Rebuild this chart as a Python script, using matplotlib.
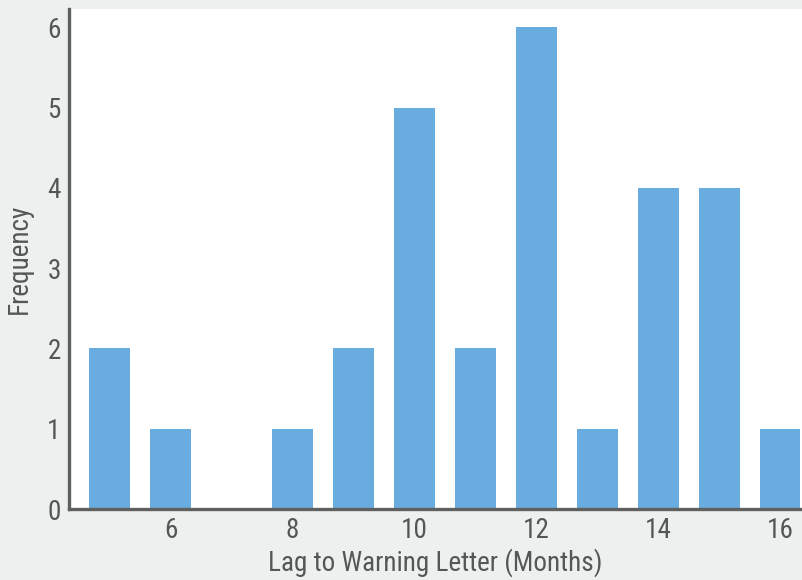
import matplotlib
matplotlib.use("Agg")
from matplotlib import pyplot as plt
from matplotlib import font_manager

# lag to warning letter histogram
months = [5, 6, 7, 8, 9, 10, 11, 12, 13, 14, 15, 16]
counts = [2, 1, 0, 1, 2, 5, 2, 6, 1, 4, 4, 1]
xticks = [6, 8, 10, 12, 14, 16]
yticks = [0, 1, 2, 3, 4, 5, 6]

# pick a narrow font if there is one
have = set(f.name for f in font_manager.fontManager.ttflist)
fam = 'DejaVu Sans'
for name in ['Liberation Sans Narrow', 'Roboto Condensed', 'Open Sans Condensed', 'Roboto', 'Liberation Sans']:
    if name in have:
        fam = name
        break
plt.rcParams['font.family'] = [fam, 'DejaVu Sans']
txt = '#555757'

fig = plt.figure(figsize=(8.02, 5.80), dpi=100, facecolor='#eef0ef')
ax = fig.add_axes([69/802, 71/580, 1 - 69/802, 500/580])
ax.set_facecolor('white')

ax.bar(months, counts, width=0.67, color='#69acdf')

ax.set_xlim(4.336, 16.36)
ax.set_ylim(0, 6.23)
ax.set_xticks(xticks)
ax.set_yticks(yticks)
ax.tick_params(length=0, labelsize=19.5, labelcolor=txt, pad=6)
for lab in ax.get_xticklabels() + ax.get_yticklabels():
    lab.set_fontstretch('condensed')

for s in ['top', 'right']:
    ax.spines[s].set_visible(False)
for s in ['left', 'bottom']:
    ax.spines[s].set_color('#5f6060')
    ax.spines[s].set_linewidth(2.4)

ax.set_xlabel('Lag to Warning Letter (Months)', fontsize=19.5, color=txt, labelpad=3, fontstretch='condensed')
ax.set_ylabel('Frequency', fontsize=19.5, color=txt, labelpad=10, fontstretch='condensed')

fig.savefig('out.png', dpi=100, facecolor=fig.get_facecolor())
